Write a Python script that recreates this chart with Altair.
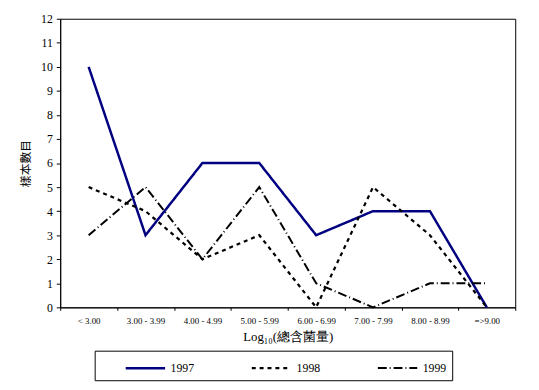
import altair as alt
import pandas as pd

categories = ["< 3.00", "3.00 - 3.99", "4.00 - 4.99", "5.00 - 5.99",
              "6.00 - 6.99", "7.00 - 7.99", "8.00 - 8.99", "=>9.00"]
y1997 = [10, 3, 6, 6, 3, 4, 4, 0]
y1998 = [5, 4, 2, 3, 0, 5, 3, 0]
y1999 = [3, 5, 2, 5, 1, 0, 1, 1]
years = ["1997", "1998", "1999"]

rows = []
for yr, vals in zip(years, [y1997, y1998, y1999]):
    for c, v in zip(categories, vals):
        rows.append({"cat": c, "count": v, "year": yr})
df = pd.DataFrame(rows)

serif = "Liberation Serif"
leg = alt.Legend(title=None, orient="none", legendX=35, legendY=337,
                 direction="horizontal", columns=3, symbolType="M-2,0H2",
                 symbolSize=400, symbolOffset=34, columnPadding=33,
                 labelFont=serif, labelFontSize=12, labelColor="black",
                 labelOffset=14, strokeColor="black", padding=6,
                 labelExpr="datum.label + '       '",
                 symbolFillColor="transparent",
                 symbolStrokeColor="black")

chart = alt.Chart(df).mark_line().encode(
    x=alt.X("cat:N", sort=categories, title="Log₁₀(總含菌量)",
            scale=alt.Scale(paddingInner=0, paddingOuter=0),
            axis=alt.Axis(labelAngle=0, labelFontSize=9, labelFont=serif,
                          labelColor="black",
                          tickBand="extent", tickSize=3, labelPadding=6,
                          titleFont=serif, titleFontSize=13,
                          titleFontWeight="normal", titlePadding=6)),
    y=alt.Y("count:Q", title="樣本數目",
            scale=alt.Scale(domain=[0, 12], nice=False),
            axis=alt.Axis(values=list(range(13)), tickSize=4, grid=False,
                          labelColor="black",
                          labelFont=serif, labelFontSize=12, labelPadding=4,
                          titleFont="Noto Sans CJK TC", titleFontSize=12,
                          titleFontWeight="normal", titlePadding=8)),
    color=alt.Color("year:N", scale=alt.Scale(domain=years,
                    range=["#000080", "black", "black"]), legend=leg),
    strokeDash=alt.StrokeDash("year:N", scale=alt.Scale(domain=years,
                    range=[[1, 0], [4, 4], [9, 3, 1, 3]]), legend=leg),
    strokeWidth=alt.StrokeWidth("year:N", scale=alt.Scale(domain=years,
                    range=[2.5, 2, 1]), legend=leg),
).properties(
    width=462, height=293,
    autosize=alt.AutoSizeParams(type="none"),
    padding={"left": 53, "top": 8, "right": 16, "bottom": 81},
).configure_view(stroke="black", strokeWidth=1
).configure_axis(domainColor="black", tickColor="black", labelColor="black",
                 titleColor="black")

chart.save("out.html", embed_options={"renderer": "svg", "actions": False})
